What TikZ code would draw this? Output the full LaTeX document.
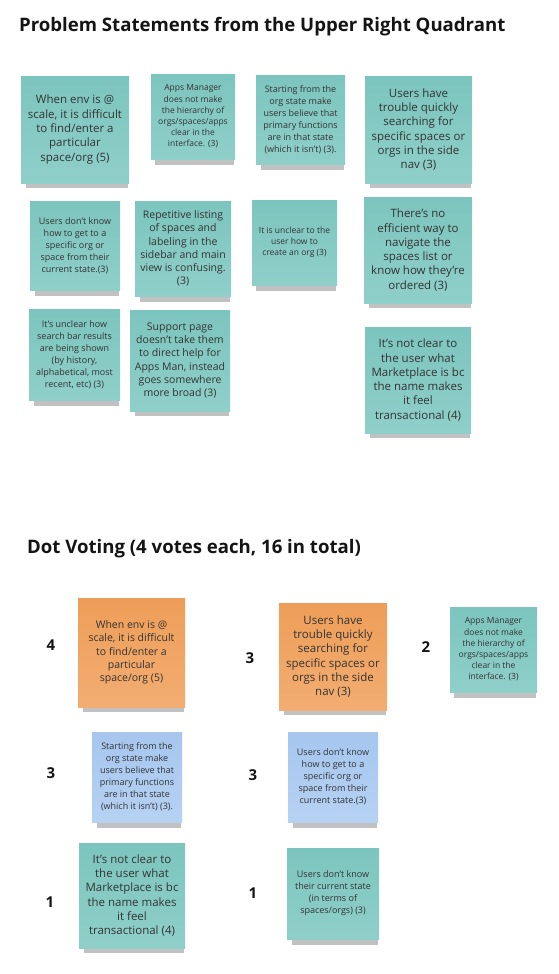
\documentclass[tikz,border=0pt]{standalone}
\usepackage{fontspec}
\setmainfont{Open Sans}
\usepackage{xcolor}
\usetikzlibrary{shadows}
\definecolor{tealtop}{HTML}{7CC5BE}
\definecolor{tealbot}{HTML}{8FCFC9}
\definecolor{orangetop}{HTML}{EE9E58}
\definecolor{orangebot}{HTML}{F2AD72}
\definecolor{bluetop}{HTML}{A6C6EF}
\definecolor{bluebot}{HTML}{B6D2F3}
\definecolor{inkgray}{HTML}{333333}

\begin{document}
\begin{tikzpicture}[x=1pt,y=-1pt,
  every node/.style={inner sep=0pt,text=inkgray},
  heading/.style={anchor=west,font=\fontsize{18.6}{22}\selectfont\bfseries,text=black!92},
  votenum/.style={font=\fontsize{15}{18}\selectfont\bfseries,text=black!92},
  notesize/.style 2 args={minimum width=#1pt,minimum height=#2pt},
  note/.style={align=center,
    drop shadow={shadow xshift=2pt,shadow yshift=-9pt,shadow scale=0.94,opacity=0.3,fill=black!80}},
  tealnote/.style={note,top color=tealtop,bottom color=tealbot},
  orangenote/.style={note,top color=orangetop,bottom color=orangebot},
  bluenote/.style={note,top color=bluetop,bottom color=bluebot},
  bigtxt/.style={font=\fontsize{11.5}{14.3}\selectfont},
  midtxt/.style={font=\fontsize{10.5}{13.3}\selectfont},
  smalltxt/.style={font=\fontsize{9}{12}\selectfont},
  tinytxt/.style={font=\fontsize{8.5}{11.2}\selectfont}]
  \useasboundingbox[fill=white] (0,0) rectangle (558,974);

  % Problem statements
  \node[heading] (quadtitle) at (19,27) {Problem Statements from the Upper Right Quadrant};

  % Row 1
  \node[tealnote,bigtxt,notesize={108}{107}] (envscale) at (75,129.5)
    {When env is @\\scale, it is difficult\\to find/enter a\\particular\\space/org (5)};
  \node[tealnote,tinytxt,notesize={84}{85}] (hierarchy) at (193,116.5)
    {Apps Manager\\does not make\\the hierarchy of\\orgs/spaces/apps\\clear in the\\interface. (3)};
  \node[tealnote,smalltxt,notesize={89}{89}] (orgstate) at (300.5,119.5)
    {Starting from the\\org state make\\users believe that\\primary functions\\are in that state\\(which it isn't) (3).};
  \node[tealnote,bigtxt,notesize={107}{107}] (searchnav) at (418.5,129.5)
    {Users have\\trouble quickly\\searching for\\specific spaces or\\orgs in the side\\nav (3)};

  % Row 2
  \node[tealnote,smalltxt,notesize={90}{89}] (getto) at (75,245.5)
    {Users don't know\\how to get to a\\specific org or\\space from their\\current state.(3)};
  \node[tealnote,midtxt,notesize={96}{95}] (repetitive) at (183,248.5)
    {Repetitive listing\\of spaces and\\labeling in the\\sidebar and main\\view is confusing.\\(3)};
  \node[tealnote,tinytxt,notesize={85}{85}] (createorg) at (294.5,242.5)
    {It is unclear to the\\user how to\\create an org (3)};
  \node[tealnote,bigtxt,notesize={108}{106}] (spaceslist) at (418,250)
    {There's no\\efficient way to\\navigate the\\spaces list or\\know how they're\\ordered (3)};

  % Row 3
  \node[tealnote,smalltxt,notesize={91}{91}] (searchbar) at (74.5,354.5)
    {It's unclear how\\search bar results\\are being shown\\(by history,\\alphabetical, most\\recent, etc) (3)};
  \node[tealnote,midtxt,notesize={100}{101}] (support) at (180,360.5)
    {Support page\\doesn't take them\\to direct help for\\Apps Man, instead\\goes somewhere\\more broad (3)};
  \node[tealnote,bigtxt,notesize={106}{106}] (marketplace) at (418,380)
    {It's not clear to\\the user what\\Marketplace is bc\\the name makes\\it feel\\transactional (4)};

  % Dot voting
  \node[heading] (votetitle) at (27,549) {Dot Voting (4 votes each, 16 in total)};

  \node[votenum] (n4) at (51,645) {4};
  \node[orangenote,midtxt,notesize={107}{109}] (venvscale) at (131.5,652.5)
    {When env is @\\scale, it is difficult\\to find/enter a\\particular\\space/org (5)};
  \node[votenum] (n3a) at (250,658) {3};
  \node[orangenote,bigtxt,notesize={108}{107}] (vsearchnav) at (333,656.5)
    {Users have\\trouble quickly\\searching for\\specific spaces or\\orgs in the side\\nav (3)};
  \node[votenum] (n2) at (426,647) {2};
  \node[tealnote,tinytxt,notesize={87}{85}] (vhierarchy) at (493.5,649.5)
    {Apps Manager\\does not make\\the hierarchy of\\orgs/spaces/apps\\clear in the\\interface. (3)};

  \node[votenum] (n3b) at (51,773) {3};
  \node[bluenote,smalltxt,notesize={90}{90}] (vorgstate) at (137,777)
    {Starting from the\\org state make\\users believe that\\primary functions\\are in that state\\(which it isn't) (3).};
  \node[votenum] (n3c) at (253,775) {3};
  \node[bluenote,smalltxt,notesize={90}{90}] (vgetto) at (333,777)
    {Users don't know\\how to get to a\\specific org or\\space from their\\current state.(3)};

  \node[votenum] (n1a) at (50,902) {1};
  \node[tealnote,bigtxt,notesize={106}{105}] (vmarketplace) at (132,895.5)
    {It's not clear to\\the user what\\Marketplace is bc\\the name makes\\it feel\\transactional (4)};
  \node[votenum] (n1b) at (253,893) {1};
  \node[tealnote,smalltxt,notesize={92}{91}] (vcurrent) at (333,893.5)
    {Users don't know\\their current state\\(in terms of\\spaces/orgs) (3)};
\end{tikzpicture}
\end{document}
